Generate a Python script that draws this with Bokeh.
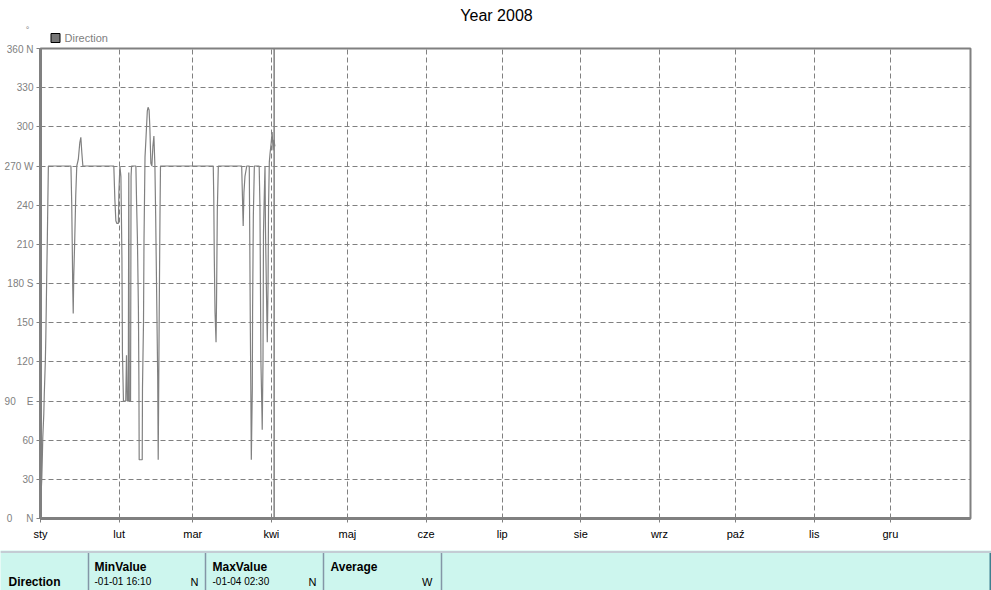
from bokeh.plotting import figure
from bokeh.models import FixedTicker, Span, Range1d, ColumnDataSource
from bokeh.layouts import column
from bokeh.embed import file_html
from bokeh.resources import INLINE
from bokeh.core.properties import value

# ---------------- data ----------------
title_text = "Year 2008"
series_name = "Direction"
unit_text = "°"

month_labels = ["sty", "lut", "mar", "kwi", "maj", "cze", "lip", "sie", "wrz", "paź", "lis", "gru"]
month_start_days = [0, 31, 60, 91, 121, 152, 182, 213, 244, 274, 305, 335]
year_days = 366.6

NB = "\u00a0"
y_ticks = [0, 30, 60, 90, 120, 150, 180, 210, 240, 270, 300, 330, 360]
y_tick_labels = ["0" + NB * 5 + "N", "30", "60", "90" + NB * 4 + "E", "120", "150",
                 "180" + NB + "S", "210", "240", "270" + NB + "W", "300", "330", "360" + NB + "N"]

# day of year (0 = 1 Jan) and wind direction in degrees
days = [0.1, 0.3, 0.5, 0.7, 0.9, 1.3, 1.5, 1.9, 2.1, 2.3, 2.5, 2.7, 2.9, 3.1,
        12.0, 12.3, 12.5, 12.7, 12.9, 13.1, 13.5, 13.9, 14.3, 14.9, 15.5, 15.9, 16.3, 16.7,
        28.9, 29.3, 29.7, 30.1, 30.7, 30.9, 31.3, 31.7, 32.1, 32.3, 32.7,
        33.6, 33.9, 34.2, 34.6, 34.8, 35.0, 35.5, 35.7, 35.9,
        37.6, 37.9, 38.2, 38.6, 38.8, 38.9, 40.1, 40.2, 40.6, 40.8, 41.2, 41.6, 42.1,
        42.4, 42.8, 43.1, 43.5, 43.9, 44.3, 44.7, 45.1, 45.4, 46.2, 46.4, 46.8, 47.1, 47.3,
        68.1, 68.3, 68.5, 68.8, 69.2, 69.4, 69.7, 70.1,
        79.3, 79.6, 79.9, 80.2, 80.6, 81.3,
        82.3, 82.5, 82.7, 82.9, 83.1, 83.5, 83.6, 83.9, 84.3,
        86.2, 86.5, 86.9, 87.3, 87.4, 87.7, 87.9, 88.2, 88.5, 88.7, 89.1, 89.4, 89.7, 89.9,
        90.2, 90.5, 90.9, 91.3, 91.7, 92.0, 92.4]
directions = [8, 22, 30, 45, 62, 80, 96, 120, 139, 165, 191, 215, 243, 270,
              270, 242, 212, 178, 157, 185, 214, 248, 270, 275, 288, 292, 280, 270,
              270, 245, 228, 226, 226, 250, 270, 262, 200, 127, 90,
              90, 125, 90, 90, 265, 90, 90, 262, 270,
              270, 240, 215, 160, 102, 45, 45, 100, 150, 213, 277, 292, 312,
              315, 313, 300, 272, 270, 285, 293, 270, 232, 108, 45, 158, 232, 270,
              270, 246, 201, 158, 135, 168, 236, 270,
              270, 247, 224, 250, 262, 270,
              270, 213, 150, 102, 45, 100, 158, 232, 270,
              270, 240, 119, 80, 68, 120, 219, 246, 270, 220, 170, 135, 180, 240,
              273, 280, 287, 296, 282, 290, 285]
now_day = 92.1

table_row_name = "Direction"
table_headers = ["MinValue", "MaxValue", "Average"]
table_times = ["-01-01  16:10", "-01-04  02:30", ""]
table_dirs = ["N", "N", "W"]

# ---------------- styles ----------------
FONT = "Liberation Sans"
GRAY = "#808080"
W = 991


def bare(fig):
    fig.axis.visible = False
    fig.grid.visible = False
    fig.outline_line_color = None


# ---------------- header (title, unit, legend) ----------------
H_HEAD = 43
h = figure(width=W, height=H_HEAD, x_range=Range1d(0, W), y_range=Range1d(H_HEAD, 0),
           output_backend="svg", toolbar_location=None, frame_align=False,
           min_border=0, min_border_left=0, min_border_right=0, min_border_top=0, min_border_bottom=0,
           background_fill_color="white", border_fill_color="white")
bare(h)
h.text(x=[496], y=[15], text=[title_text], text_font=value(FONT), text_font_size="16px",
       text_align="center", text_baseline="middle", text_color="black")
h.text(x=[27], y=[29], text=[unit_text], text_font=value(FONT), text_font_size="9px",
       text_align="center", text_baseline="middle", text_color=GRAY)
h.quad(left=[50.5], right=[59.5], top=[33], bottom=[42], fill_color="#777777", line_color="black")
h.text(x=[64], y=[37.3], text=[series_name], text_font=value(FONT), text_font_size="11px",
       text_baseline="middle", text_color=GRAY)

# ---------------- main chart ----------------
p = figure(width=W, height=507, x_range=Range1d(0, year_days), y_range=Range1d(0, 360),
           output_backend="svg", toolbar_location=None, frame_align=False,
           min_border_left=40, min_border_right=21, min_border_top=5, min_border_bottom=32,
           background_fill_color="white", border_fill_color="white")
p.outline_line_color = GRAY
p.outline_line_width = 2

p.xaxis.ticker = FixedTicker(ticks=month_start_days)
p.xaxis.major_label_overrides = {d: lab for d, lab in zip(month_start_days, month_labels)}
p.xaxis.axis_line_color = GRAY
p.xaxis.axis_line_width = 3
p.xaxis.major_tick_line_color = GRAY
p.xaxis.major_tick_out = 4
p.xaxis.major_tick_in = 0
p.xaxis.minor_tick_line_color = None
p.xaxis.major_label_standoff = 5
p.xaxis.major_label_text_font = FONT
p.xaxis.major_label_text_font_size = "11px"
p.xaxis.major_label_text_color = "black"

p.yaxis.ticker = FixedTicker(ticks=y_ticks)
p.yaxis.major_label_overrides = {t: lab for t, lab in zip(y_ticks, y_tick_labels)}
p.yaxis.axis_line_color = GRAY
p.yaxis.axis_line_width = 3
p.yaxis.major_tick_line_color = GRAY
p.yaxis.major_tick_out = 4
p.yaxis.major_tick_in = 0
p.yaxis.minor_tick_line_color = None
p.yaxis.major_label_standoff = 3
p.yaxis.major_label_text_font = FONT
p.yaxis.major_label_text_font_size = "10px"
p.yaxis.major_label_text_color = GRAY

p.xgrid.ticker = FixedTicker(ticks=month_start_days)
p.ygrid.ticker = FixedTicker(ticks=y_ticks)
for g in (p.xgrid, p.ygrid):
    g.grid_line_color = GRAY
    g.grid_line_dash = "5 3"
    g.grid_line_width = 1

src = ColumnDataSource(dict(day=days, dir=directions))
p.line("day", "dir", source=src, line_color=GRAY, line_width=1.2)
p.add_layout(Span(location=now_day, dimension="height", line_color=GRAY, line_width=1.5))

# ---------------- statistics table ----------------
H_TAB = 40
t = figure(width=W, height=H_TAB, x_range=Range1d(0, W), y_range=Range1d(H_TAB, 0),
           output_backend="svg", toolbar_location=None, frame_align=False,
           min_border=0, min_border_left=0, min_border_right=0, min_border_top=0, min_border_bottom=0,
           background_fill_color="#cdf6ee", border_fill_color="#cdf6ee")
bare(t)
t.segment(x0=[0], y0=[1.5], x1=[W], y1=[1.5], line_color="#c4ccd4", line_width=2)
sep_x = [88, 205, 323, 441]
t.segment(x0=sep_x, y0=[2.5] * 4, x1=sep_x, y1=[H_TAB] * 4, line_color="#8496a6", line_width=1.5)
t.segment(x0=[990], y0=[2.5], x1=[990], y1=[H_TAB], line_color="#3f7f8f", line_width=2)

col_left = [94, 212, 330]
col_right = [198, 316, 432]
t.text(x=[8], y=[31], text=[table_row_name], text_font=value(FONT), text_font_size="12px",
       text_font_style="bold", text_baseline="middle", text_color="black")
t.text(x=col_left, y=[16] * 3, text=table_headers, text_font=value(FONT), text_font_size="12px",
       text_font_style="bold", text_baseline="middle", text_color="black")
t.text(x=col_left, y=[31] * 3, text=table_times, text_font=value(FONT), text_font_size="10px",
       text_baseline="middle", text_color="black")
t.text(x=col_right, y=[31] * 3, text=table_dirs, text_font=value(FONT), text_font_size="11px",
       text_baseline="middle", text_align="right", text_color="black")

layout = column(h, p, t, spacing=0)
open("out.html", "w").write(file_html(layout, INLINE))
